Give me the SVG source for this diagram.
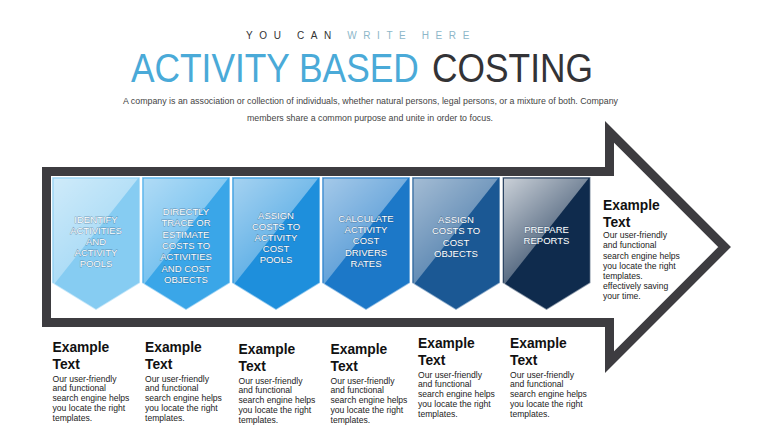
<svg xmlns="http://www.w3.org/2000/svg" width="760" height="428" viewBox="0 0 760 428">
<defs>
<linearGradient id="gloss" x1="0" y1="0" x2="0.7" y2="1">
<stop offset="0" stop-color="#fff" stop-opacity="0.6"/>
<stop offset="1" stop-color="#fff" stop-opacity="0.18"/>
</linearGradient>
<linearGradient id="glossDark" x1="0" y1="0" x2="0.7" y2="1">
<stop offset="0" stop-color="#fff" stop-opacity="0.78"/>
<stop offset="1" stop-color="#fff" stop-opacity="0.08"/>
</linearGradient>
<polygon id="chev" points="0,0 88,0 88,106 44,133 0,106"/>
<polygon id="shine" points="1.5,1.5 86,1.5 1.5,108"/>
</defs>
<style>
.sans{font-family:"Liberation Sans",Arial,sans-serif}
.chev{stroke:#ffffff;stroke-opacity:0.5;stroke-width:1.5}
.ct{font-family:"Liberation Sans",Arial,sans-serif;font-size:9.5px;fill:#ffffff;text-anchor:middle;stroke:#2a4a6a;stroke-opacity:0.45;stroke-width:0.9;paint-order:stroke}
.h{font-family:"Liberation Sans",Arial,sans-serif;font-size:13.8px;font-weight:bold;fill:#111}
.b{font-family:"Liberation Sans",Arial,sans-serif;font-size:8.6px;fill:#222}
</style>
<rect width="760" height="428" fill="#ffffff"/>

<g id="header">
<text class="sans" x="361" y="39" text-anchor="middle" font-size="10" letter-spacing="6.6"><tspan fill="#333">YOU CAN </tspan><tspan fill="#8db7c9">WRITE HERE</tspan></text>
<text class="sans" transform="translate(131 82) scale(0.883 1)" x="0" y="0" font-size="40"><tspan fill="#4aaad8">ACTIVITY BASED </tspan><tspan fill="#333336" dx="4">COSTING</tspan></text>
<text class="sans" x="123" y="103.5" font-size="9.5" fill="#444" textLength="495" lengthAdjust="spacingAndGlyphs">A company is an association or collection of individuals, whether natural persons, legal persons, or a mixture of both. Company</text>
<text class="sans" x="247" y="121" font-size="9.5" fill="#444" textLength="246" lengthAdjust="spacingAndGlyphs">members share a common purpose and unite in order to focus.</text>
</g>

<g id="arrow">
<polygon points="46.5,171.5 609.5,171.5 609.5,131.9 724.6,247 609.5,362.1 609.5,322.5 46.5,322.5" fill="#ffffff" stroke="#3d3c40" stroke-width="9" stroke-linejoin="miter"/>
</g>

<g id="step1" transform="translate(52,177)">
<use href="#chev" class="chev" fill="#86ccf2"/>
<use href="#shine" fill="url(#gloss)"/>
<text class="ct" x="44" y="46">IDENTIFY</text>
<text class="ct" x="44" y="57">ACTIVITIES</text>
<text class="ct" x="44" y="68">AND</text>
<text class="ct" x="44" y="79">ACTIVITY</text>
<text class="ct" x="44" y="90">POOLS</text>
</g>
<g id="step2" transform="translate(142,177)">
<use href="#chev" class="chev" fill="#3aa6e8"/>
<use href="#shine" fill="url(#gloss)"/>
<text class="ct" x="44" y="38">DIRECTLY</text>
<text class="ct" x="44" y="49.3">TRACE OR</text>
<text class="ct" x="44" y="60.6">ESTIMATE</text>
<text class="ct" x="44" y="71.9">COSTS TO</text>
<text class="ct" x="44" y="83.2">ACTIVITIES</text>
<text class="ct" x="44" y="94.5">AND COST</text>
<text class="ct" x="44" y="105.8">OBJECTS</text>
</g>
<g id="step3" transform="translate(232,177)">
<use href="#chev" class="chev" fill="#1e8fdc"/>
<use href="#shine" fill="url(#gloss)"/>
<text class="ct" x="44" y="42">ASSIGN</text>
<text class="ct" x="44" y="53">COSTS TO</text>
<text class="ct" x="44" y="64">ACTIVITY</text>
<text class="ct" x="44" y="75">COST</text>
<text class="ct" x="44" y="86">POOLS</text>
</g>
<g id="step4" transform="translate(322,177)">
<use href="#chev" class="chev" fill="#1c78c8"/>
<use href="#shine" fill="url(#gloss)"/>
<text class="ct" x="44" y="45">CALCULATE</text>
<text class="ct" x="44" y="56.2">ACTIVITY</text>
<text class="ct" x="44" y="67.4">COST</text>
<text class="ct" x="44" y="78.6">DRIVERS</text>
<text class="ct" x="44" y="89.8">RATES</text>
</g>
<g id="step5" transform="translate(412,177)">
<use href="#chev" class="chev" fill="#1b5894"/>
<use href="#shine" fill="url(#gloss)"/>
<text class="ct" x="44" y="46">ASSIGN</text>
<text class="ct" x="44" y="57.3">COSTS TO</text>
<text class="ct" x="44" y="68.6">COST</text>
<text class="ct" x="44" y="79.9">OBJECTS</text>
</g>
<g id="step6" transform="translate(502.5,177)">
<use href="#chev" class="chev" fill="#0f2b4d"/>
<use href="#shine" fill="url(#glossDark)"/>
<text class="ct" x="44" y="56">PREPARE</text>
<text class="ct" x="44" y="67">REPORTS</text>
</g>

<g id="note-right">
<text class="h" x="603" y="209.5">Example</text>
<text class="h" x="603" y="226.5">Text</text>
<text class="b" x="603" y="238.3">Our user-friendly</text>
<text class="b" x="603" y="248.4">and functional</text>
<text class="b" x="603" y="258.5">search engine helps</text>
<text class="b" x="603" y="268.6">you locate the right</text>
<text class="b" x="603" y="278.7">templates.</text>
<text class="b" x="603" y="288.8">effectively saving</text>
<text class="b" x="603" y="298.9">your time.</text>
</g>

<g id="note1" transform="translate(52.5,0)">
<text class="h" x="0" y="352.3">Example</text>
<text class="h" x="0" y="369">Text</text>
<text class="b" x="0" y="381.5">Our user-friendly</text>
<text class="b" x="0" y="391.3">and functional</text>
<text class="b" x="0" y="401.1">search engine helps</text>
<text class="b" x="0" y="410.9">you locate the right</text>
<text class="b" x="0" y="420.7">templates.</text>
</g>
<g id="note2" transform="translate(145,0)">
<text class="h" x="0" y="352.3">Example</text>
<text class="h" x="0" y="369">Text</text>
<text class="b" x="0" y="381.5">Our user-friendly</text>
<text class="b" x="0" y="391.3">and functional</text>
<text class="b" x="0" y="401.1">search engine helps</text>
<text class="b" x="0" y="410.9">you locate the right</text>
<text class="b" x="0" y="420.7">templates.</text>
</g>
<g id="note3" transform="translate(238.5,2)">
<text class="h" x="0" y="352.3">Example</text>
<text class="h" x="0" y="369">Text</text>
<text class="b" x="0" y="381.5">Our user-friendly</text>
<text class="b" x="0" y="391.3">and functional</text>
<text class="b" x="0" y="401.1">search engine helps</text>
<text class="b" x="0" y="410.9">you locate the right</text>
<text class="b" x="0" y="420.7">templates.</text>
</g>
<g id="note4" transform="translate(330.5,2)">
<text class="h" x="0" y="352.3">Example</text>
<text class="h" x="0" y="369">Text</text>
<text class="b" x="0" y="381.5">Our user-friendly</text>
<text class="b" x="0" y="391.3">and functional</text>
<text class="b" x="0" y="401.1">search engine helps</text>
<text class="b" x="0" y="410.9">you locate the right</text>
<text class="b" x="0" y="420.7">templates.</text>
</g>
<g id="note5" transform="translate(418,-4)">
<text class="h" x="0" y="352.3">Example</text>
<text class="h" x="0" y="369">Text</text>
<text class="b" x="0" y="381.5">Our user-friendly</text>
<text class="b" x="0" y="391.3">and functional</text>
<text class="b" x="0" y="401.1">search engine helps</text>
<text class="b" x="0" y="410.9">you locate the right</text>
<text class="b" x="0" y="420.7">templates.</text>
</g>
<g id="note6" transform="translate(510,-4)">
<text class="h" x="0" y="352.3">Example</text>
<text class="h" x="0" y="369">Text</text>
<text class="b" x="0" y="381.5">Our user-friendly</text>
<text class="b" x="0" y="391.3">and functional</text>
<text class="b" x="0" y="401.1">search engine helps</text>
<text class="b" x="0" y="410.9">you locate the right</text>
<text class="b" x="0" y="420.7">templates.</text>
</g>
</svg>
